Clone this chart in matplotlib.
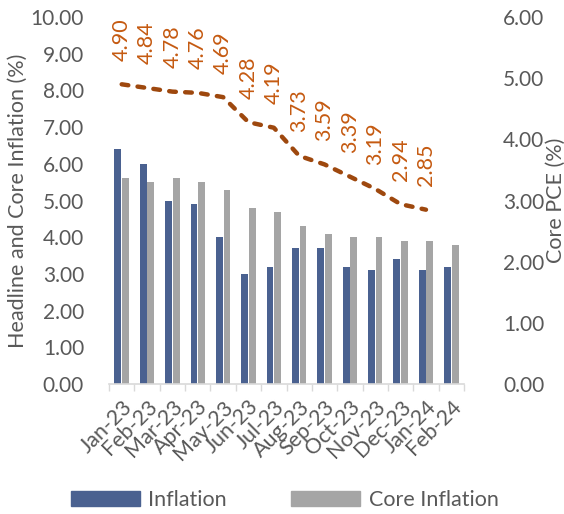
import matplotlib

matplotlib.use("Agg")
import matplotlib.pyplot as plt
from matplotlib.patches import Patch
import numpy as np

plt.rcParams["font.family"] = ["Lato", "DejaVu Sans"]

months = ["Jan-23", "Feb-23", "Mar-23", "Apr-23", "May-23", "Jun-23", "Jul-23",
          "Aug-23", "Sep-23", "Oct-23", "Nov-23", "Dec-23", "Jan-24", "Feb-24"]
inflation = [6.4, 6.0, 5.0, 4.9, 4.0, 3.0, 3.2, 3.7, 3.7, 3.2, 3.1, 3.4, 3.1, 3.2]
core_inflation = [5.6, 5.5, 5.6, 5.5, 5.3, 4.8, 4.7, 4.3, 4.1, 4.0, 4.0, 3.9, 3.9, 3.8]
core_pce = [4.90, 4.84, 4.78, 4.76, 4.69, 4.28, 4.19, 3.73, 3.59, 3.39, 3.19, 2.94, 2.85]

BLUE = "#4A6190"
GRAY = "#A5A5A5"
PCE_LINE = "#9E480E"
PCE_TEXT = "#C55A11"
TEXT = "#595959"
FS = 15.5
TICK_FS = 15

fig = plt.figure(figsize=(5.64, 5.14), dpi=100)
ax = fig.add_axes([0.1933, 0.2529, 0.6294, 0.714])

x = np.arange(len(months))
w = 0.27
ax.bar(x - 0.15, inflation, w, color=BLUE, zorder=2)
ax.bar(x + 0.15, core_inflation, w, color=GRAY, zorder=2)

ax.set_xlim(-0.5, len(months) - 0.5)
ax.set_ylim(0, 10)
ax.set_yticks(np.arange(0, 11, 1))
ax.set_yticklabels([f"{v:.2f}" for v in np.arange(0, 11, 1)])
ax.tick_params(axis="y", length=0, pad=18, labelsize=TICK_FS, labelcolor=TEXT)
ax.set_xticks(x)
ax.set_xticklabels(months, rotation=45, ha="right", rotation_mode="anchor")
ax.set_xticks(np.arange(-0.5, len(months)), minor=True)
ax.tick_params(axis="x", which="major", length=0, pad=9, labelsize=FS, labelcolor=TEXT)
ax.tick_params(axis="x", which="minor", length=5, width=1, color="#D9D9D9")
ax.set_ylabel("Headline and Core Inflation (%)", fontsize=FS, color=TEXT, labelpad=2)
for side in ("top", "left", "right"):
    ax.spines[side].set_visible(False)
ax.spines["bottom"].set_color("#D9D9D9")
ax.spines["bottom"].set_linewidth(1.2)

# Core PCE on its own scale, right side
ax2 = ax.twinx()
ax2.set_ylim(0, 6)
ax2.set_yticks(np.arange(0, 7, 1))
ax2.set_yticklabels([f"{v:.2f}" for v in np.arange(0, 7, 1)])
ax2.tick_params(axis="y", length=0, pad=28, labelsize=TICK_FS, labelcolor=TEXT)
ax2.set_ylabel("Core PCE (%)", fontsize=FS, color=TEXT, labelpad=1)
for spine in ax2.spines.values():
    spine.set_visible(False)

xp = np.arange(len(core_pce))
line, = ax2.plot(xp, core_pce, color=PCE_LINE, lw=3.2, zorder=3)
line.set_dashes((1.5, 2.1))
line.set_dash_capstyle("round")
for xi, v in zip(xp, core_pce):
    ax2.annotate(f"{v:.2f}", (xi, v), textcoords="offset points", xytext=(0, 17),
                 rotation=90, ha="center", va="bottom", fontsize=FS, color=PCE_TEXT)

handles = [Patch(color=BLUE, label="Inflation"), Patch(color=GRAY, label="Core Inflation")]
fig.legend(handles=handles, loc="lower center", bbox_to_anchor=(0.505, -0.03), ncol=2,
           frameon=False, fontsize=FS, labelcolor=TEXT, handlelength=3.2, handleheight=0.65,
           handletextpad=0.4, columnspacing=3.0)

fig.savefig("out.png", dpi=100)
